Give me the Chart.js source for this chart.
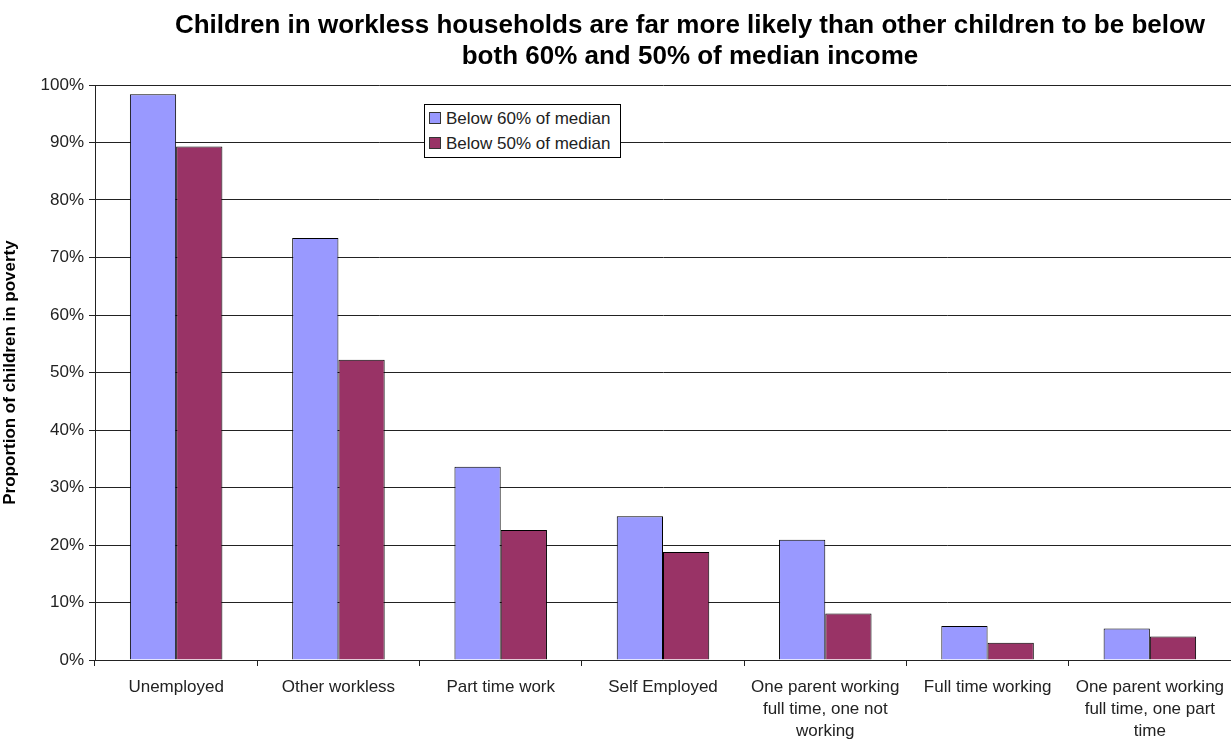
<!DOCTYPE html>
<html>
<head>
<meta charset="utf-8">
<script src="https://cdn.jsdelivr.net/npm/chart.js@4/dist/chart.umd.min.js"></script>
<style>
  html, body { margin: 0; padding: 0; background: #fff; }
  #wrap { position: relative; width: 1231px; height: 742px; }
  #title {
    position: absolute; left: 140px; width: 1100px; top: 9px;
    text-align: center; font: bold 26px "Liberation Sans", Arial, sans-serif;
    line-height: 31px; color: #000;
  }
  #legend {
    position: absolute; left: 424px; top: 104px; width: 195px; height: 52px;
    background: #fff; border: 1px solid #000;
    font: 17px "Liberation Sans", Arial, sans-serif; color: #222;
  }
  #legend div { position: absolute; left: 4px; height: 20px; line-height: 20px; white-space: nowrap; }
  #legend span.sw { display: inline-block; width: 10px; height: 10px; border: 1px solid #333; margin-right: 5px; vertical-align: 0px; }
</style>
</head>
<body>
<div id="wrap">
  <canvas id="chart" width="1231" height="742"></canvas>
  <div id="title">Children in workless households are far more likely than other children to be below<br>both 60% and 50% of median income</div>
  <div id="legend"></div>
</div>
<script>
  // Datos
  const categorias = [
    'Unemployed',
    'Other workless',
    'Part time work',
    'Self Employed',
    ['One parent working', 'full time, one not', 'working'],
    'Full time working',
    ['One parent working', 'full time, one part', 'time']
  ];
  const below60 = [98.4, 73.4, 33.6, 25.0, 20.9, 5.9, 5.5];
  const below50 = [89.3, 52.2, 22.6, 18.8, 8.1, 3.0, 4.1];
  const etiquetas = ['Below 60% of median', 'Below 50% of median'];
  const colores = ['#9999FF', '#993366'];

  const chart = new Chart(document.getElementById('chart'), {
    type: 'bar',
    data: {
      labels: categorias,
      datasets: [
        { label: etiquetas[0], data: below60, backgroundColor: colores[0], borderColor: '#000', borderWidth: 1 },
        { label: etiquetas[1], data: below50, backgroundColor: colores[1], borderColor: '#000', borderWidth: 1 }
      ]
    },
    options: {
      responsive: false,
      animation: false,
      layout: { padding: { top: 85, right: 0, left: 0, bottom: 0 } },
      plugins: {
        legend: { display: false },
        title: { display: false },
        tooltip: { enabled: false }
      },
      datasets: { bar: { categoryPercentage: 0.57, barPercentage: 1.0 } },
      scales: {
        x: {
          offset: true,
          grid: { offset: true, drawOnChartArea: false, drawTicks: true, tickLength: 6, color: '#222' },
          border: { color: '#222', width: 1 },
          ticks: {
            maxRotation: 0, autoSkip: false, padding: 10, color: '#222',
            font: { family: 'Liberation Sans', size: 17, lineHeight: 1.3 }
          },
          afterFit: s => { s.height = 82; s.paddingLeft = 0; s.paddingRight = 0; }
        },
        y: {
          min: 0, max: 100,
          grid: { color: '#222', lineWidth: 1, tickLength: 6 },
          border: { color: '#222', width: 1 },
          ticks: {
            stepSize: 10, padding: 5, color: '#222',
            font: { family: 'Liberation Sans', size: 17 },
            callback: v => v + '%'
          },
          title: {
            display: true, text: 'Proportion of children in poverty', color: '#000',
            font: { family: 'Liberation Sans', size: 17, weight: 'bold' },
            padding: { top: 0, bottom: 0 }
          },
          afterFit: s => { s.width = 95; s.paddingTop = 0; s.paddingBottom = 0; }
        }
      }
    }
  });

  // Leyenda
  const leg = document.getElementById('legend');
  etiquetas.forEach((t, i) => {
    const d = document.createElement('div');
    d.style.top = (i === 0 ? 4 : 29) + 'px';
    d.innerHTML = '<span class="sw" style="background:' + colores[i] + '"></span>' + t;
    leg.appendChild(d);
  });
</script>
</body>
</html>
